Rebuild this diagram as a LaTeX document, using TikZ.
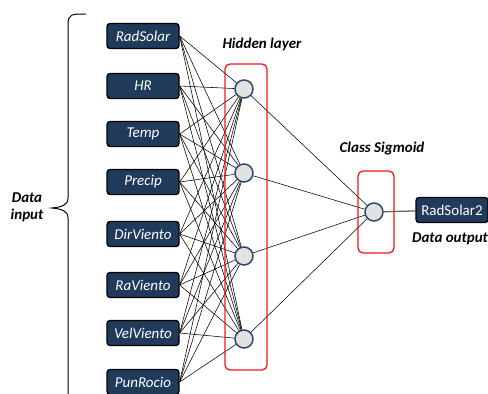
\documentclass[tikz,border=0pt]{standalone}
\usepackage{fontspec}
\setmainfont{Carlito}
\definecolor{boxblue}{HTML}{203A5C}
\definecolor{ringblue}{HTML}{2C4A6E}
\definecolor{neurongrey}{HTML}{E2E2E2}
\definecolor{layerred}{HTML}{F01818}
\pgfdeclarelayer{background}
\pgfsetlayers{background,main}
\begin{document}
\begin{tikzpicture}[x=1pt,y=-1pt,
  inbox/.style={draw=black,line width=1.3pt,fill=boxblue,rounded corners=3pt,
    minimum width=72pt,minimum height=25pt,inner sep=0pt,text=white,
    font=\fontsize{15}{17}\selectfont\itshape},
  outbox/.style={inbox,font=\fontsize{15}{17}\selectfont},
  neuron/.style={circle,draw=ringblue,line width=1.5pt,fill=neurongrey,
    minimum size=18pt,inner sep=0pt},
  layerframe/.style={draw=layerred,line width=1.3pt,rounded corners=5pt},
  caption/.style={font=\fontsize{15}{17}\selectfont\bfseries\itshape,text=black},
  link/.style={draw=black,line width=0.55pt}]
\useasboundingbox (0,0) rectangle (488,394);

% input nodes
\node[inbox] (i1) at (143,36) {RadSolar};
\node[inbox] (i2) at (143,86) {HR};
\node[inbox] (i3) at (143,134) {Temp};
\node[inbox] (i4) at (143,182) {Precip};
\node[inbox] (i5) at (143,234) {DirViento};
\node[inbox] (i6) at (143,285) {RaViento};
\node[inbox] (i7) at (143,333) {VelViento};
\node[inbox] (i8) at (143,382) {PunRocio};

% hidden nodes
\node[neuron] (h1) at (244,89) {};
\node[neuron] (h2) at (244,173) {};
\node[neuron] (h3) at (244,256) {};
\node[neuron] (h4) at (244,339) {};

% output
\node[neuron] (o) at (374,212) {};
\node[outbox] (out) at (452,210) {RadSolar2};

\begin{pgfonlayer}{background}
% links
\foreach \i in {1,...,8}{
  \foreach \h in {1,...,4}{
    \draw[link] (i\i.east) -- (h\h);
  }
}
\foreach \h in {1,...,4}{
  \draw[link] (h\h) -- (o);
}
\draw[draw=gray!80!black,line width=1.3pt] (o) -- (out);
\end{pgfonlayer}

% layer frames
\draw[layerframe] (225,64) rectangle (267,370);
\draw[layerframe] (358,171) rectangle (394,253);

% captions
\node[caption] (hl) at (262,44) {Hidden layer};
\node[caption] (cs) at (382,148) {Class Sigmoid};
\node[caption] (do) at (450,239) {Data output};
\node[caption,align=center] (di) at (27,207) {Data\\input};

% brace
\draw[line width=1pt,black] (86,14) .. controls (72,14) and (68,14) .. (68,24)
  -- (68,198) .. controls (68,205) and (62,207) .. (52,208)
  .. controls (62,209) and (68,211) .. (68,218) -- (68,394);
\end{tikzpicture}
\end{document}
